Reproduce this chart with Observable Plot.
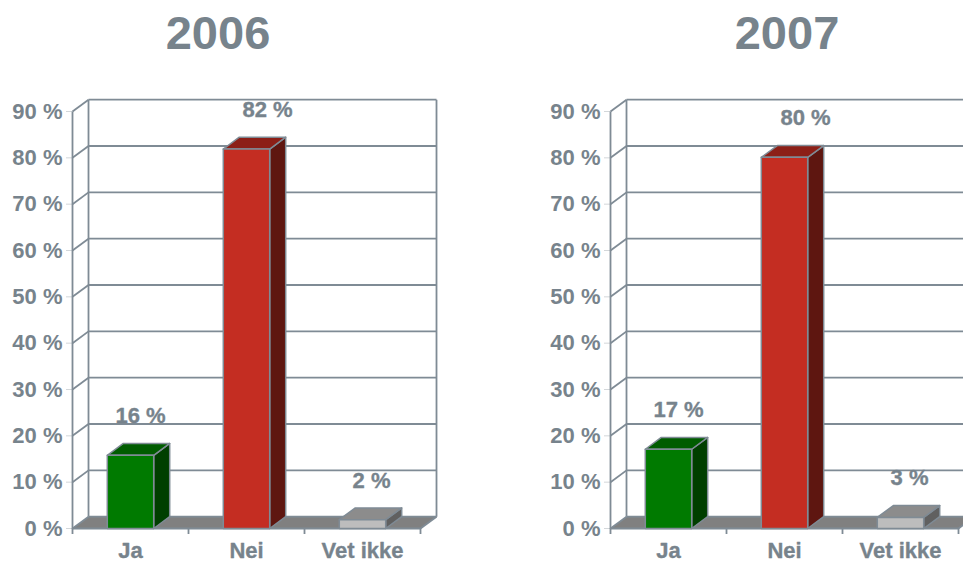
<!DOCTYPE html>
<html>
<head>
<meta charset="utf-8">
<script src="https://cdn.jsdelivr.net/npm/d3@7"></script>
<script src="https://cdn.jsdelivr.net/npm/@observablehq/plot@0.6"></script>
<style>
  html, body { margin: 0; padding: 0; background: #fff; overflow: hidden; }
  #chart { position: relative; width: 963px; height: 563px; overflow: hidden; font-family: "Liberation Sans", Arial, sans-serif; }
  .panel { position: absolute; top: 0; height: 563px; }
  .panel svg { display: block; }
  .title { position: absolute; top: 6px; text-align: center; font-size: 47px; line-height: 54px; font-weight: bold; color: #77838c; }
</style>
</head>
<body>
<div id="chart"></div>
<script>
const categories = ["Ja", "Nei", "Vet ikke"];
const years = ["2006", "2007"];
const values2006 = [15.8, 81.9, 1.9];
const values2007 = [17.1, 80.1, 2.4];
const labels2006 = ["16 %", "82 %", "2 %"];
const labels2007 = ["17 %", "80 %", "3 %"];
const yTicks = [0, 10, 20, 30, 40, 50, 60, 70, 80, 90];
const frontColors = ["#007a00", "#c42d22", "#bdbdbd"];
const topColors = ["#005c00", "#8c1f17", "#8c8c8c"];
const sideColors = ["#003f00", "#5e1610", "#606060"];

const lineColor = "#7f8b95";
const textColor = "#77838c";
const labelShift = [10, 21, 9];   // px, sideways shift of the value labels
const depthX = 0.138;             // 3D depth in x-scale units
const depthY = 2.55;              // 3D depth in y-scale units
const halfBar = 0.2;
const n = categories.length;
const yMax = yTicks[yTicks.length - 1];
const textWeight = {fill: textColor, stroke: textColor, strokeWidth: 0.35, fontSize: 22, fontWeight: "bold"};

function facesFor(values) {
  const faces = [];
  values.forEach((v, i) => {
    const l = i + 0.5 - halfBar, r = i + 0.5 + halfBar;
    const add = (id, fill, pts) => pts.forEach(([x, y]) => faces.push({id: id + i, fill, x, y}));
    add("side", sideColors[i], [[r, 0], [r + depthX, depthY], [r + depthX, v + depthY], [r, v]]);
    add("top", topColors[i], [[l, v], [r, v], [r + depthX, v + depthY], [l + depthX, v + depthY]]);
    add("front", frontColors[i], [[l, 0], [r, 0], [r, v], [l, v]]);
  });
  return faces;
}

function panel(title, values, labels, left, width, titleWidth) {
  const floor = [[0, 0], [n, 0], [n + depthX, depthY], [depthX, depthY]].map(([x, y]) => ({x, y}));
  const seg = (x1, y1, x2, y2) => ({x1, y1, x2, y2});
  const wall = [
    seg(depthX, depthY, depthX, yMax + depthY),
    seg(n + depthX, depthY, n + depthX, yMax + depthY),
    seg(0, 0, 0, yMax),
    seg(0, 0, n, 0),
    seg(n, 0, n + depthX, depthY),
    ...yTicks.map(t => seg(0, t, depthX, t + depthY)),
    ...yTicks.map(t => seg(depthX, t + depthY, n + depthX, t + depthY))
  ];
  const marks = [
    Plot.line(floor, {x: "x", y: "y", curve: "linear-closed", fill: "#808080", stroke: "none"}),
    Plot.link(wall, {x1: "x1", y1: "y1", x2: "x2", y2: "y2", stroke: lineColor, strokeWidth: 1.8}),
    Plot.line(facesFor(values), {x: "x", y: "y", z: "id", fill: "fill", stroke: lineColor, strokeWidth: 1.5, curve: "linear-closed"}),
    Plot.axisY({ticks: yTicks, tickFormat: d => d + " %", tickSize: 6, tickPadding: 4, label: null, strokeWidth: 1.8, ...textWeight, stroke: lineColor}),
    Plot.axisX({ticks: d3.range(n + 1), tickFormat: () => "", tickSize: 6, label: null, stroke: lineColor, strokeWidth: 1.8}),
    Plot.text(categories, {x: (d, i) => i + 0.5, y: 0, text: d => d, dy: 22, ...textWeight}),
    ...labels.map((t, i) => Plot.text([t], {x: i + 0.5, y: values[i], text: d => d, dx: labelShift[i], dy: -39, ...textWeight}))
  ];
  const chart = Plot.plot({
    width, height: 563,
    marginLeft: 72, marginRight: width - 420, marginTop: 111, marginBottom: 35,
    x: {domain: [0, n], axis: null},
    y: {domain: [0, yMax], axis: null},
    style: {background: "transparent", overflow: "hidden", fontFamily: '"Liberation Sans", Arial, sans-serif'},
    marks
  });
  const div = document.createElement("div");
  div.className = "panel";
  div.style.left = left + "px";
  div.style.width = width + "px";
  div.appendChild(chart);
  const h = document.createElement("div");
  h.className = "title";
  h.textContent = title;
  h.style.left = "0";
  h.style.width = titleWidth + "px";
  div.appendChild(h);
  document.getElementById("chart").appendChild(div);
}

panel(years[0], values2006, labels2006, 0, 440, 436);
panel(years[1], values2007, labels2007, 538, 425, 498);
</script>
</body>
</html>
